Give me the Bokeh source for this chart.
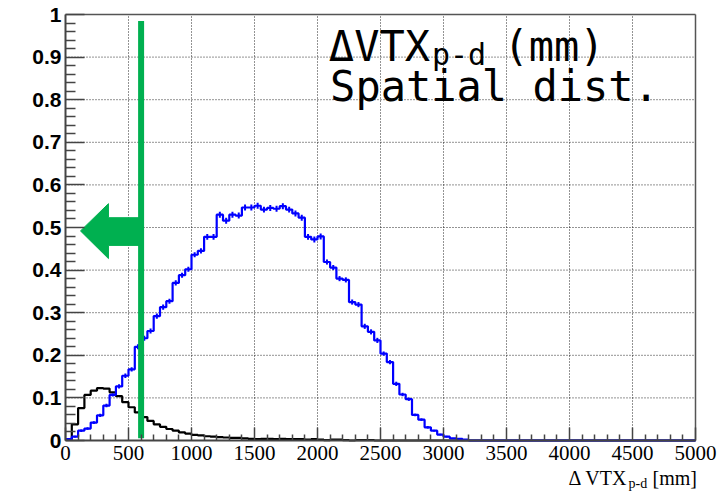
from bokeh.plotting import figure
from bokeh.models import FixedTicker, Label, Range1d
from bokeh.embed import file_html
from bokeh.resources import INLINE

# ---- data ----
bin_width = 50
n_bins = 100
bin_edges = [i * bin_width for i in range(n_bins + 1)]

# blue: spatial distance distribution (normalised), bins of 50 mm from 0
blue_vals = [0.003, 0.009, 0.023, 0.028, 0.042, 0.059, 0.082, 0.107, 0.127, 0.152,
             0.167, 0.220, 0.240, 0.257, 0.292, 0.313, 0.327, 0.370, 0.388, 0.402,
             0.436, 0.445, 0.478, 0.478, 0.530, 0.516, 0.530, 0.528, 0.547, 0.547,
             0.551, 0.542, 0.546, 0.544, 0.550, 0.542, 0.533, 0.523, 0.478, 0.472,
             0.479, 0.419, 0.406, 0.380, 0.377, 0.325, 0.319, 0.268, 0.255, 0.235,
             0.204, 0.184, 0.133, 0.108, 0.097, 0.060, 0.049, 0.031, 0.023, 0.014,
             0.009, 0.005, 0.004, 0.002]
blue_errs = [0.002, 0.002, 0.003, 0.003, 0.003, 0.004, 0.004, 0.004, 0.005, 0.005,
             0.005, 0.006, 0.006, 0.006, 0.006, 0.006, 0.006, 0.006, 0.006, 0.006,
             0.006, 0.006, 0.007, 0.007, 0.007, 0.007, 0.007, 0.007, 0.007, 0.007,
             0.007, 0.007, 0.007, 0.007, 0.007, 0.007, 0.007, 0.007, 0.007, 0.007,
             0.007, 0.006, 0.006, 0.006, 0.006, 0.006, 0.006, 0.006, 0.006, 0.006,
             0.005, 0.005, 0.005, 0.004, 0.004, 0.003, 0.003, 0.003, 0.002, 0.002,
             0.002, 0.001, 0.001, 0.001]
blue_vals = blue_vals + [0.0] * (n_bins - len(blue_vals))
blue_errs = blue_errs + [0.0] * (n_bins - len(blue_errs))

# black: background distribution
black_vals = [0.003, 0.038, 0.076, 0.107, 0.117, 0.123, 0.122, 0.113, 0.104, 0.090,
              0.078, 0.066, 0.055, 0.046, 0.038, 0.032, 0.027, 0.023, 0.019, 0.016,
              0.013, 0.012, 0.010, 0.009, 0.008, 0.007, 0.006, 0.006, 0.005, 0.004,
              0.003, 0.004, 0.004, 0.003, 0.004, 0.003, 0.003, 0.003, 0.002, 0.003,
              0.002, 0.001, 0.002, 0.002, 0.001, 0.000, 0.001, 0.001, 0.001]
black_vals = black_vals + [0.0] * (n_bins - len(black_vals))

cut_value = 600  # mm, green selection line

x_ticks = [0, 500, 1000, 1500, 2000, 2500, 3000, 3500, 4000, 4500, 5000]
x_tick_labels = ["0", "500", "1000", "1500", "2000", "2500", "3000", "3500", "4000", "4500", "5000"]
y_tick_labels = ["0", "0.1", "0.2", "0.3", "0.4", "0.5", "0.6", "0.7", "0.8", "0.9", "1"]
y_ticks = [float(s) for s in y_tick_labels]

X_MIN, X_MAX = 0, 5000
Y_MIN, Y_MAX = 0.0, 1.0

# ---- figure: frame spans the whole canvas, axes drawn at fixed data locations ----
W, H = 718, 498
left_px, right_px, top_px, bottom_px = 65, 695, 14, 440
xs = (X_MAX - X_MIN) / (right_px - left_px)
ys = (Y_MAX - Y_MIN) / (bottom_px - top_px)
p = figure(width=W, height=H, output_backend="svg", toolbar_location=None,
           x_range=Range1d(X_MIN - left_px * xs, X_MAX + (W - right_px) * xs),
           y_range=Range1d(Y_MIN - (H - bottom_px) * ys, Y_MAX + top_px * ys),
           min_border=0, min_border_left=0, min_border_right=0,
           min_border_top=0, min_border_bottom=0)
p.background_fill_color = "white"
p.border_fill_color = "white"
p.outline_line_color = None
p.xgrid.visible = False
p.ygrid.visible = False

# axes
x_minor = [v for v in range(0, 5001, 100) if v % 500 != 0]
y_minor = [round(i * 0.02, 2) for i in range(51) if i % 5 != 0]
p.xaxis.ticker = FixedTicker(ticks=x_ticks, minor_ticks=x_minor)
p.yaxis.ticker = FixedTicker(ticks=y_ticks, minor_ticks=y_minor)
p.xaxis.major_label_overrides = {t: l for t, l in zip(x_ticks, x_tick_labels)}
p.yaxis.major_label_overrides = {t: l for t, l in zip(y_ticks, y_tick_labels)}
p.xaxis.fixed_location = Y_MIN
p.yaxis.fixed_location = X_MIN
p.xaxis.bounds = (X_MIN, X_MAX)
p.yaxis.bounds = (Y_MIN, Y_MAX)

for ax in (p.xaxis[0], p.yaxis[0]):
    ax.axis_line_color = "#444444"
    ax.axis_line_width = 2
    ax.major_tick_line_color = "#444444"
    ax.minor_tick_line_color = "#444444"
    ax.major_tick_line_width = 1.5
    ax.minor_tick_line_width = 1.5
    ax.major_tick_out = 0
    ax.minor_tick_out = 0
    ax.major_label_text_color = "black"

p.yaxis.major_tick_in = 19
p.yaxis.minor_tick_in = 10
p.yaxis.major_label_text_font = "Liberation Sans"
p.yaxis.major_label_text_font_style = "bold"
p.yaxis.major_label_text_font_size = "21px"
p.yaxis.major_label_standoff = 4

p.xaxis.major_tick_in = 13
p.xaxis.minor_tick_in = 6
p.xaxis.major_label_text_font = "Liberation Serif"
p.xaxis.major_label_text_font_size = "21px"
p.xaxis.major_label_standoff = 5

# dotted grid at major ticks, limited to the plot area
grid_x = [t for t in x_ticks if X_MIN < t < X_MAX]
grid_y = [t for t in y_ticks if Y_MIN < t < Y_MAX]
p.segment(x0=grid_x, x1=grid_x, y0=[Y_MIN] * len(grid_x), y1=[Y_MAX] * len(grid_x),
          line_color="black", line_dash="1 2", line_width=1, line_alpha=0.85)
p.segment(x0=[X_MIN] * len(grid_y), x1=[X_MAX] * len(grid_y), y0=grid_y, y1=grid_y,
          line_color="black", line_dash="1 2", line_width=1, line_alpha=0.85)

# frame: top and right edges
p.segment(x0=[X_MIN, X_MAX], x1=[X_MAX, X_MAX], y0=[Y_MAX, Y_MIN], y1=[Y_MAX, Y_MAX],
          line_color="#555555", line_width=1.5)

# histograms
centers = [e + bin_width / 2 for e in bin_edges[:-1]]
p.step(x=bin_edges, y=black_vals + [0.0], mode="after", line_color="black", line_width=2.2)
p.step(x=bin_edges, y=blue_vals + [0.0], mode="after", line_color="#0000ff", line_width=2.2)
nz = [i for i, v in enumerate(blue_vals) if v > 0]
p.segment(x0=[centers[i] for i in nz], x1=[centers[i] for i in nz],
          y0=[blue_vals[i] - blue_errs[i] for i in nz],
          y1=[blue_vals[i] + blue_errs[i] for i in nz],
          line_color="#0000ff", line_width=2)

# green cut line and arrow
green = "#00b050"
p.segment(x0=[cut_value], x1=[cut_value], y0=[0.005], y1=[0.985], line_color=green, line_width=6)
arrow_tip_x = 119
head_base_x = 341
arrow_y = 0.492
p.patch(x=[cut_value, head_base_x, head_base_x, arrow_tip_x, head_base_x, head_base_x, cut_value],
        y=[arrow_y + 0.031, arrow_y + 0.031, arrow_y + 0.064, arrow_y, arrow_y - 0.065,
           arrow_y - 0.034, arrow_y - 0.034],
        fill_color=green, line_color=green, line_width=1)

# text box
mono = "DejaVu Sans Mono"
p.add_layout(Label(x=2090, y=0.924, text="ΔVTX", text_font=mono, text_font_size="42px",
                   text_baseline="alphabetic", text_color="black"))
p.add_layout(Label(x=2908, y=0.906, text="p-d", text_font=mono, text_font_size="30px",
                   text_baseline="alphabetic", text_color="black"))
p.add_layout(Label(x=3476, y=0.924, text="(mm)", text_font=mono, text_font_size="42px",
                   text_baseline="alphabetic", text_color="black"))
p.add_layout(Label(x=2100, y=0.830, text="Spatial dist.", text_font=mono, text_font_size="42px",
                   text_baseline="alphabetic", text_color="black"))

# x-axis title
serif = "Liberation Serif"
p.add_layout(Label(x=3992, y=-0.087, text="Δ VTX", text_font=serif, text_font_size="20px",
                   text_baseline="alphabetic", text_color="black"))
p.add_layout(Label(x=4468, y=-0.101, text="p-d", text_font=serif, text_font_size="14px",
                   text_baseline="alphabetic", text_color="black"))
p.add_layout(Label(x=4659, y=-0.087, text="[mm]", text_font=serif, text_font_size="20px",
                   text_baseline="alphabetic", text_color="black"))

open("out.html", "w").write(file_html(p, INLINE))
